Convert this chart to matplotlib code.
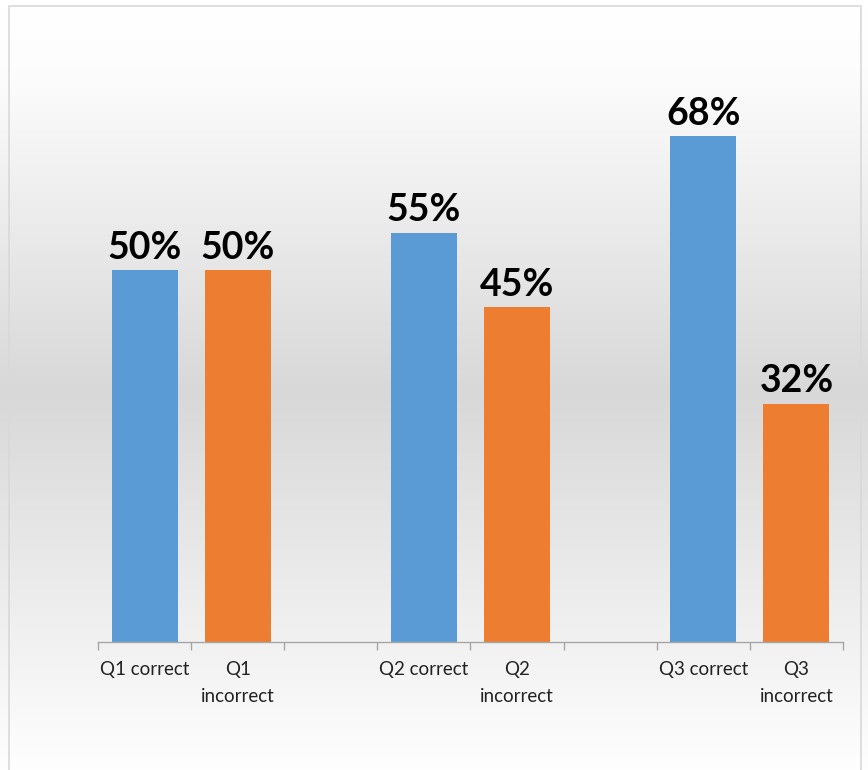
import numpy as np
import matplotlib
matplotlib.use("Agg")
import matplotlib.pyplot as plt
from matplotlib.colors import LinearSegmentedColormap
from matplotlib.patches import Rectangle

plt.rcParams.update({
    "font.family": ["Lato", "DejaVu Sans"],
    "font.size": 12,
})

# Categorias (com espaços vazios entre as perguntas)
categorias = ["Q1 correct", "Q1\nincorrect", "",
              "Q2 correct", "Q2\nincorrect", "",
              "Q3 correct", "Q3\nincorrect"]
posicoes = [0, 1, 3, 4, 6, 7]
valores = [0.50, 0.50, 0.55, 0.45, 0.68, 0.32]
rotulos = ["50%", "50%", "55%", "45%", "68%", "32%"]
cores = ["#5B9BD5", "#ED7D31", "#5B9BD5", "#ED7D31", "#5B9BD5", "#ED7D31"]

fig = plt.figure(figsize=(8.68, 7.7), dpi=100)

# Fundo em degradê (branco -> cinza -> branco)
bg = fig.add_axes([0, 0, 1, 1], zorder=0)
cmap = LinearSegmentedColormap.from_list(
    "fundo", [(0.0, "#ffffff"), (0.08, "#fdfdfd"), (0.5, "#d8d8d8"), (1.0, "#ffffff")])
grad = np.linspace(0, 1, 512).reshape(-1, 1)
bg.imshow(grad, aspect="auto", cmap=cmap, extent=[0, 1, -0.01, 0.992],
          origin="upper", vmin=0, vmax=1)
bg.set_xlim(0, 1)
bg.set_ylim(0, 1)
bg.add_patch(Rectangle((0.0104, -0.05), 0.982, 1.042, fill=False,
                       edgecolor="#d9d9d9", linewidth=1.2))
bg.axis("off")

ax = fig.add_axes([0.1129, 0.1662, 0.8583, 0.7727], zorder=1)
ax.patch.set_alpha(0)

ax.bar(posicoes, valores, width=0.71, color=cores, zorder=2)

for x, v, r in zip(posicoes, valores, rotulos):
    ax.annotate(r, (x, v), xytext=(0, 4), textcoords="offset points",
                ha="center", va="bottom", fontsize=27, fontweight="bold",
                color="black")

ax.set_xlim(-0.5, 7.5)
ax.set_ylim(0, 0.8)

ax.set_xticks(range(len(categorias)))
ax.set_xticklabels(categorias, fontsize=13.5, color="#222222", linespacing=1.7)
ax.tick_params(axis="x", which="major", length=0, pad=14)
ax.set_xticks(np.arange(-0.5, 8, 1), minor=True)
ax.tick_params(axis="x", which="minor", length=6, width=1, color="#a6a6a6")
ax.set_yticks([])

for lado in ["top", "right", "left"]:
    ax.spines[lado].set_visible(False)
ax.spines["bottom"].set_color("#a6a6a6")
ax.spines["bottom"].set_linewidth(1)

fig.savefig("out.png", dpi=100)
